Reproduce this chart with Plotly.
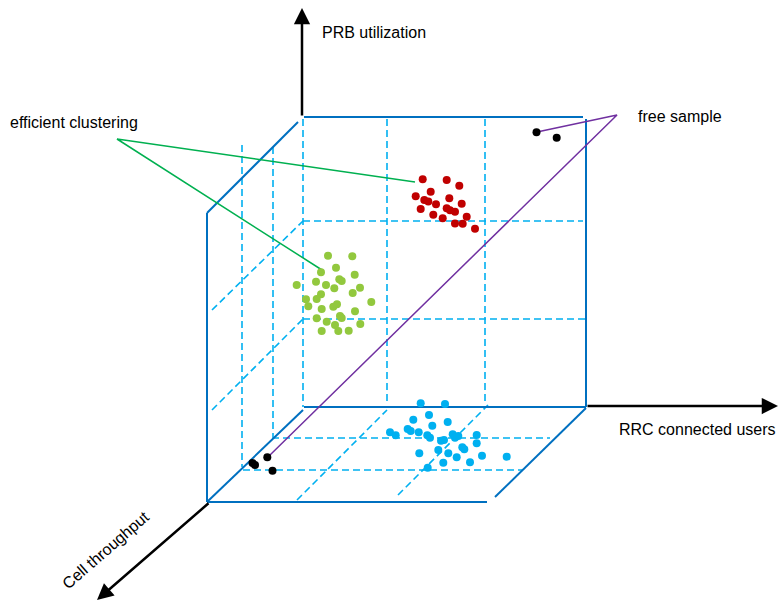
import plotly.graph_objects as go

# ---- data (diagram coordinates, pixel-like units) ----
red_x = [422.7, 446.7, 459.3, 430.7, 415.7, 449.3, 424.3, 428.3, 436.0, 461.7,
         420.7, 446.7, 450.0, 455.0, 433.3, 466.7, 442.7, 455.0, 462.7, 475.0]
red_y = [179.3, 180.0, 185.7, 191.7, 196.3, 198.3, 200.0, 201.5, 204.3, 203.7,
         209.0, 208.3, 210.3, 211.7, 214.7, 216.7, 218.3, 223.5, 223.7, 228.7]

green_x = [328.0, 352.3, 336.0, 321.0, 354.7, 316.0, 339.3, 341.7, 326.0, 296.7,
           334.3, 360.0, 352.7, 321.0, 316.7, 306.0, 371.3, 308.3, 321.7, 333.3,
           337.0, 355.0, 316.7, 340.0, 341.7, 326.7, 335.0, 360.3, 321.7, 338.3, 348.7]
green_y = [255.7, 256.3, 267.7, 272.3, 274.7, 281.7, 279.3, 281.0, 285.0, 285.0,
           288.3, 287.7, 293.0, 294.3, 299.0, 299.3, 302.0, 306.3, 309.0, 306.7,
           304.3, 311.3, 318.3, 316.0, 318.0, 321.7, 325.0, 324.0, 331.0, 331.0, 330.7]

blue_x = [420.7, 445.0, 429.0, 413.3, 447.7, 432.3, 407.7, 410.7, 390.0, 395.7,
          418.7, 427.3, 430.0, 441.0, 444.0, 452.7, 458.3, 455.0, 476.7, 476.7,
          462.3, 464.3, 438.3, 419.3, 448.3, 456.7, 482.0, 506.7, 443.3, 470.0, 427.7]
blue_y = [403.3, 404.0, 415.0, 419.7, 422.0, 425.7, 429.0, 431.0, 432.3, 435.3,
          432.3, 435.3, 437.7, 440.7, 440.0, 434.3, 436.0, 437.7, 435.0, 443.3,
          447.3, 449.3, 450.0, 453.3, 453.3, 457.3, 455.7, 456.7, 462.7, 462.3, 467.7]

free_x = [536.5, 556.7, 252.5, 255.0, 267.3, 272.5]
free_y = [132.3, 137.7, 463.0, 465.0, 457.3, 470.7]

# solid cube edges: (x0, y0, x1, y1)
cube_solid = [
    (304, 117, 583, 117),   # back top
    (586, 119, 586, 407),   # back right
    (304, 407, 586, 407),   # back bottom
    (207, 213, 298, 122),   # top-left depth edge
    (207, 213, 207, 502),   # front left
    (207, 502, 487, 502),   # front bottom
    (207, 502, 303, 410),   # bottom-left depth edge
    (495, 497, 586, 408),   # bottom-right depth edge
]
# dashed grid lines
cube_dashed = [
    (303, 119, 303, 407),
    (387, 119, 387, 405),
    (485, 119, 485, 405),
    (242, 145, 242, 467),
    (273, 147, 273, 437),
    (303, 221, 583, 221),
    (303, 319, 586, 319),
    (212, 310, 303, 221),
    (212, 410, 303, 319),
    (272, 438, 550, 438),
    (243, 470, 522, 470),
    (297, 500, 387, 410),
    (398, 495, 488, 405),
]
# leader lines
green_lead_x = [415, 117, 322]
green_lead_y = [182, 139, 270]
purple_lead_x = [537, 617, 270]
purple_lead_y = [132, 115, 455]

# axes arrows: (tail_x, tail_y, head_x, head_y)
axis_arrows = [
    (302, 117, 302, 8),
    (586, 406, 778, 406),
    (210, 502, 97, 600),
]

labels = ["PRB utilization", "RRC connected users", "Cell throughput",
          "efficient clustering", "free sample"]
label_x = [320, 617, 105, 8, 636]
label_y = [32, 429, 550, 122, 116]

# ---- figure ----
fig = go.Figure()

def seg_trace(segs, color, width, dash):
    xs, ys = [], []
    for x0, y0, x1, y1 in segs:
        xs += [x0, x1, None]
        ys += [y0, y1, None]
    return go.Scatter(x=xs, y=ys, mode="lines",
                      line=dict(color=color, width=width, dash=dash),
                      hoverinfo="skip", showlegend=False)

fig.add_trace(seg_trace(cube_dashed, "#00B0F0", 1.6, "7px,4px"))
fig.add_trace(seg_trace(cube_solid, "#0070C0", 2, "solid"))

fig.add_trace(go.Scatter(x=green_lead_x, y=green_lead_y, mode="lines",
                         line=dict(color="#00B050", width=1.5),
                         hoverinfo="skip", showlegend=False))
fig.add_trace(go.Scatter(x=purple_lead_x, y=purple_lead_y, mode="lines",
                         line=dict(color="#7030A0", width=1.5),
                         hoverinfo="skip", showlegend=False))

for xs, ys, col in [(red_x, red_y, "#C00000"), (green_x, green_y, "#92C83E"),
                    (blue_x, blue_y, "#00B0F0"), (free_x, free_y, "#000000")]:
    fig.add_trace(go.Scatter(x=xs, y=ys, mode="markers",
                             marker=dict(color=col, size=8, line=dict(width=0)),
                             hoverinfo="skip", showlegend=False))

for tx, ty, hx, hy in axis_arrows:
    fig.add_annotation(x=hx, y=hy, ax=tx, ay=ty, xref="x", yref="y",
                       axref="x", ayref="y", text="", showarrow=True,
                       arrowhead=2, arrowsize=1.3, arrowwidth=2.5,
                       arrowcolor="#000000", standoff=0)

FONT = dict(family="Liberation Sans, Arial", size=16, color="#000")
for i, t in enumerate(labels):
    if t == "Cell throughput":
        fig.add_annotation(x=label_x[i], y=label_y[i], text=t, showarrow=False,
                           textangle=-41, xanchor="center", yanchor="middle",
                           font=FONT)
    else:
        fig.add_annotation(x=label_x[i], y=label_y[i], text=t, showarrow=False,
                           xanchor="left", yanchor="middle", font=FONT)

fig.update_layout(
    width=778, height=601, margin=dict(l=0, r=0, t=0, b=0),
    paper_bgcolor="white", plot_bgcolor="white",
    xaxis=dict(range=[0, 778], visible=False, fixedrange=True),
    yaxis=dict(range=[601, 0], visible=False, fixedrange=True),
)

fig.write_html("out.html", post_script="document.body.style.margin='0';",
               config={"displayModeBar": False})
